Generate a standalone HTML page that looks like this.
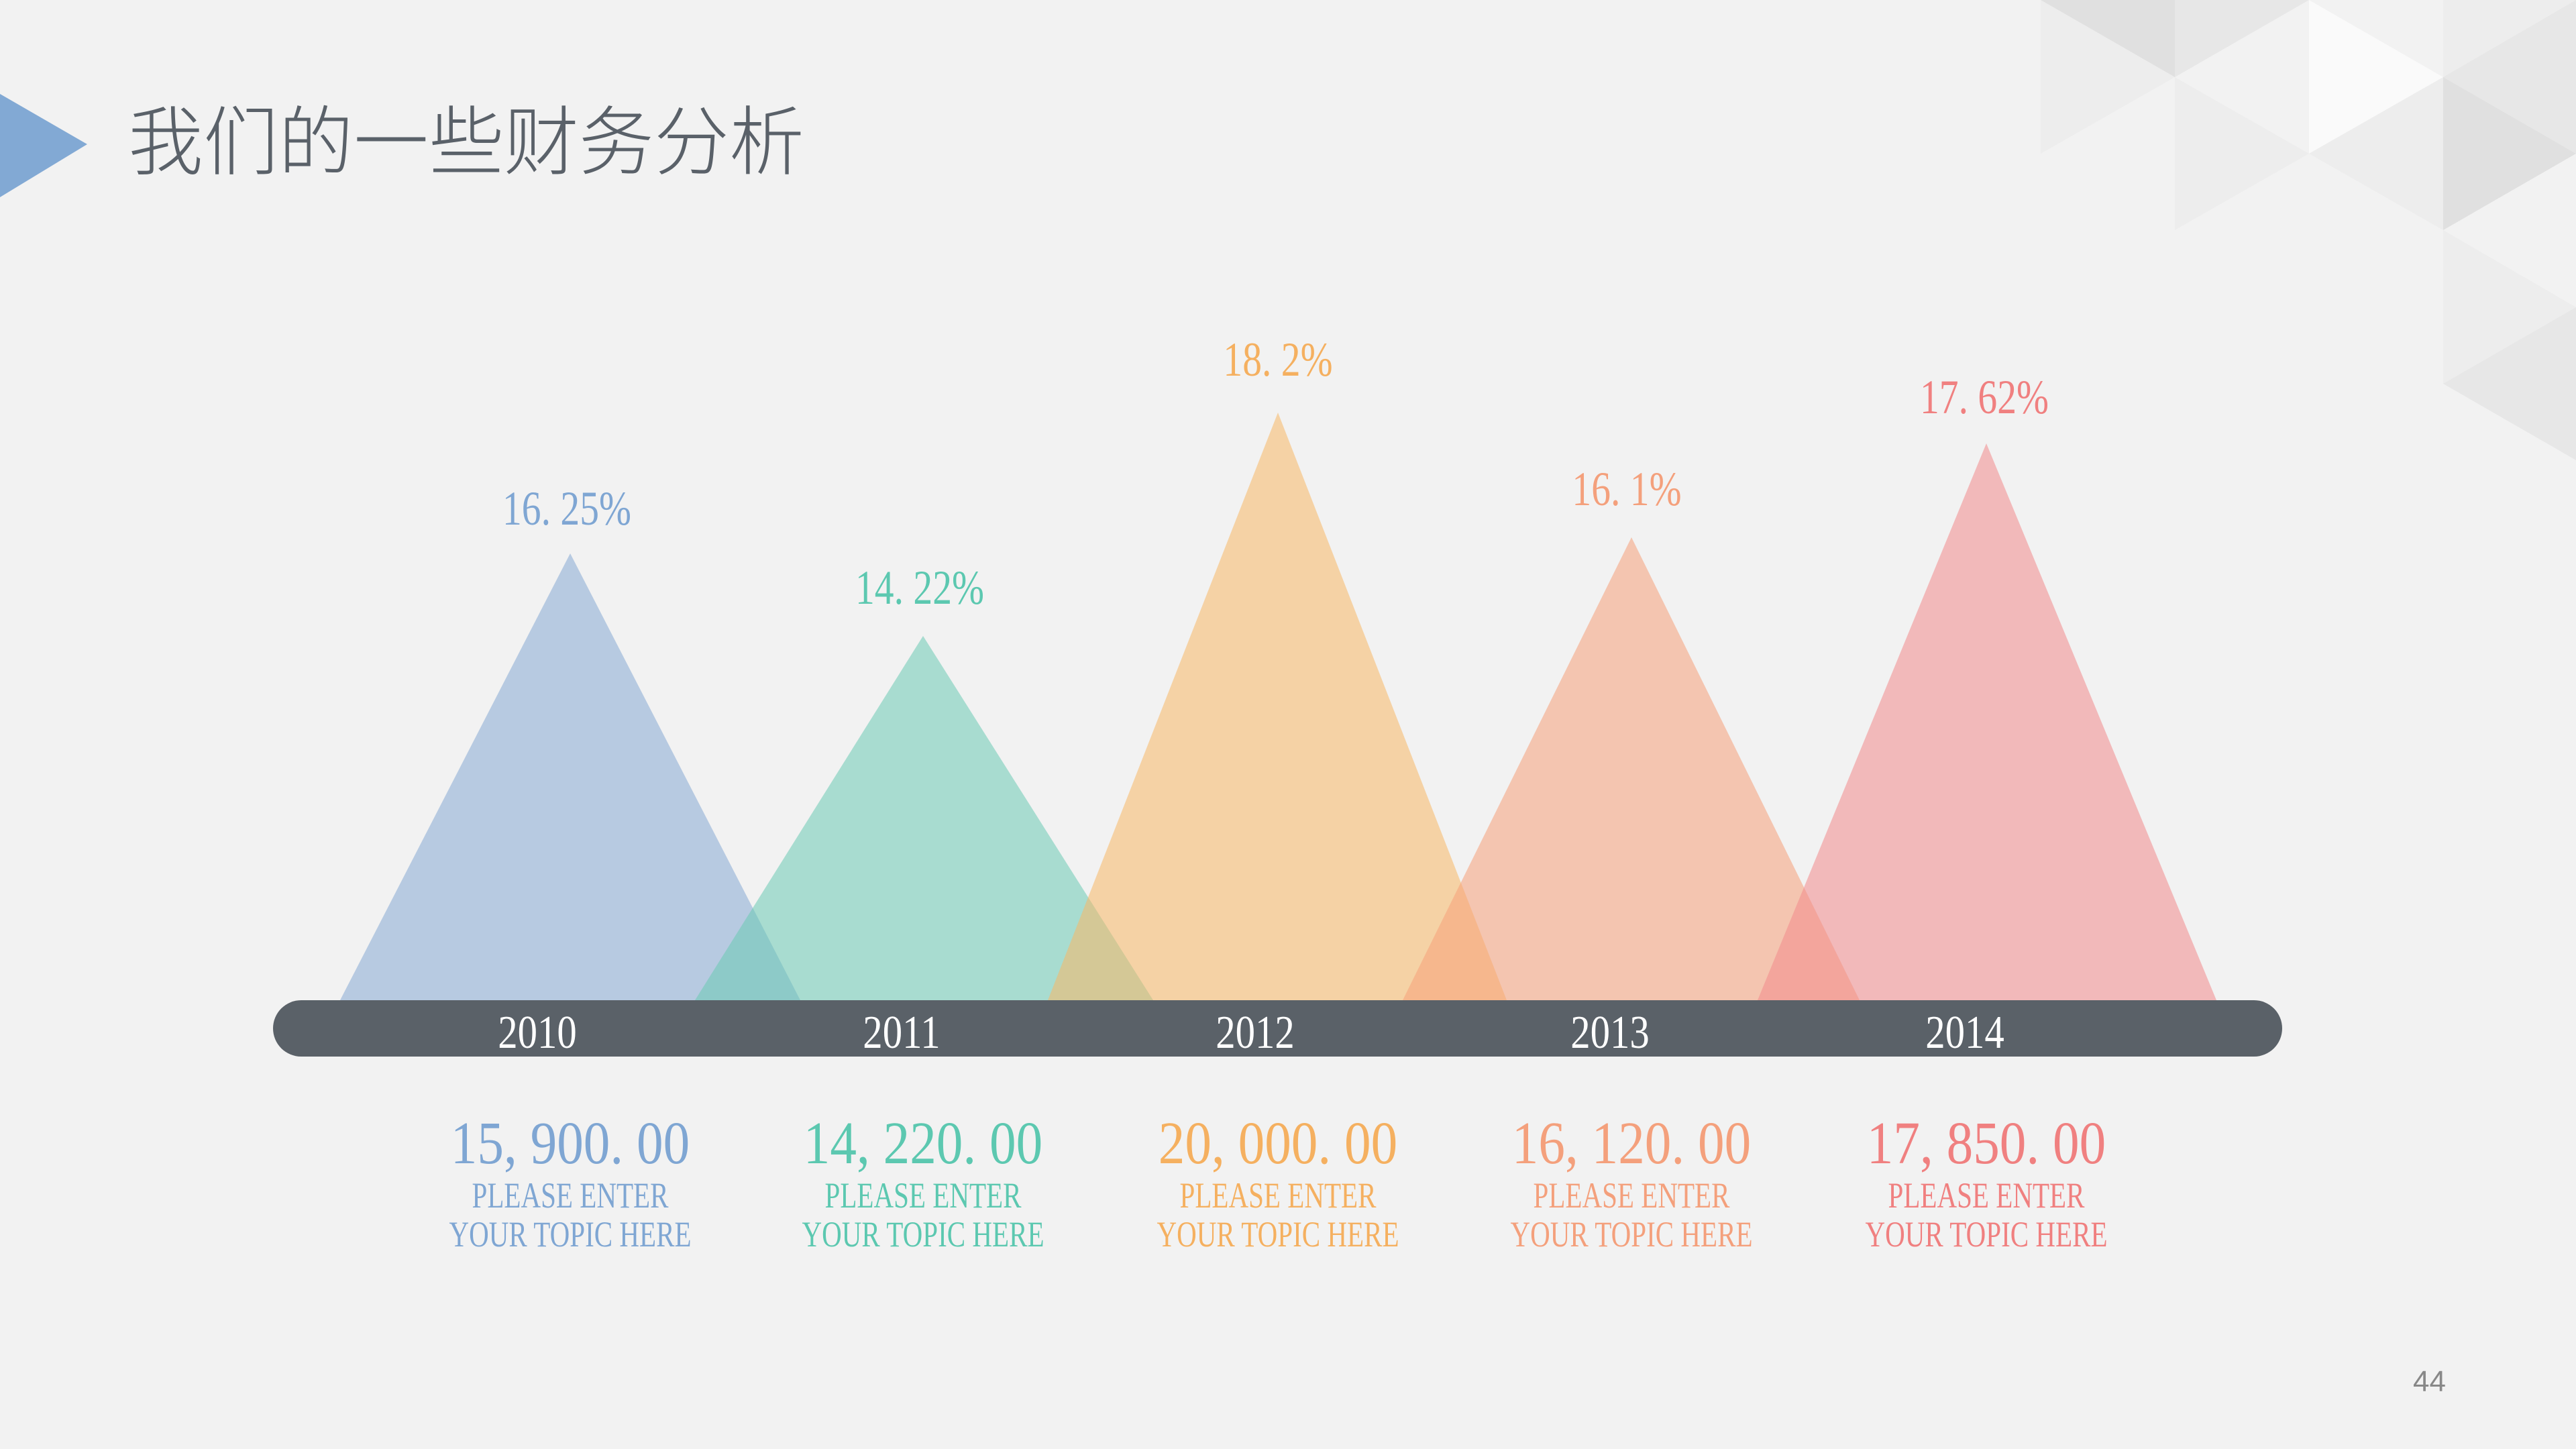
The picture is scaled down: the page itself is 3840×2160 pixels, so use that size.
<!DOCTYPE html>
<html><head><meta charset="utf-8"><style>
html,body{margin:0;padding:0;}
body{width:3840px;height:2160px;background:#f2f2f2;position:relative;overflow:hidden;font-family:"Liberation Serif","Noto Serif CJK SC",serif;}
.t{position:absolute;white-space:nowrap;line-height:1;transform-origin:center center;}
</style></head><body>
<svg width="3840" height="2160" style="position:absolute;left:0;top:0">
<g>
<polygon points="3042,0 3242,0 3242,115" fill="#e0e0e0"/>
<polygon points="3042,0 3242,115 3042,229" fill="#ededed"/>
<polygon points="3242,0 3442,0 3242,115" fill="#e7e7e7"/>
<polygon points="3242,115 3442,229 3242,343" fill="#ededed"/>
<polygon points="3442,0 3642,115 3442,229" fill="#fafafa"/>
<polygon points="3642,0 3840,0 3642,115" fill="#ededed"/>
<polygon points="3840,0 3642,115 3840,229" fill="#e7e7e7"/>
<polygon points="3642,115 3840,229 3642,343" fill="#e0e0e0"/>
<polygon points="3442,229 3642,115 3642,343" fill="#ededed"/>
<polygon points="3642,343 3840,458 3642,572" fill="#ededed"/>
<polygon points="3642,572 3840,458 3840,686" fill="#e7e7e7"/>
</g>
<polygon points="0,140 130,215 0,294" fill="#82a9d4"/>
<polygon points="507,1491 850,825 1193,1491" fill="#86aad3" opacity="0.55"/>
<polygon points="1036,1491 1376,948 1719,1491" fill="#6ccbb5" opacity="0.55"/>
<polygon points="1562,1491 1905,615 2246,1491" fill="#f7b866" opacity="0.55"/>
<polygon points="2091,1491 2432,801 2772,1491" fill="#f6a07a" opacity="0.55"/>
<polygon points="2620,1491 2961,661 3304,1491" fill="#f28b8c" opacity="0.55"/>
<rect x="407" y="1491" width="2995" height="84" rx="42" fill="#5a6168"/>
</svg>
<div class="t" style="left:191px;top:157px;font-size:112px;color:#5a6169;font-family:'Liberation Sans','Noto Sans CJK SC',sans-serif;font-weight:300;">我们的一些财务分析</div>

<div class="t" style="left:801px;top:1505px;font-size:70px;color:#fff;transform:translateX(-50%) scaleX(.84)">2010</div>
<div class="t" style="left:1344px;top:1505px;font-size:70px;color:#fff;transform:translateX(-50%) scaleX(.84)">2011</div>
<div class="t" style="left:1871px;top:1505px;font-size:70px;color:#fff;transform:translateX(-50%) scaleX(.84)">2012</div>
<div class="t" style="left:2400px;top:1505px;font-size:70px;color:#fff;transform:translateX(-50%) scaleX(.84)">2013</div>
<div class="t" style="left:2929px;top:1505px;font-size:70px;color:#fff;transform:translateX(-50%) scaleX(.84)">2014</div>

<div class="t" style="left:845px;top:722px;font-size:72px;color:#7fa6d3;transform:translateX(-50%) scaleX(.8)">16. 25%</div>
<div class="t" style="left:1371px;top:840px;font-size:72px;color:#5cc8b0;transform:translateX(-50%) scaleX(.8)">14. 22%</div>
<div class="t" style="left:1905px;top:500px;font-size:72px;color:#f5b060;transform:translateX(-50%) scaleX(.8)">18. 2%</div>
<div class="t" style="left:2425px;top:693px;font-size:72px;color:#f4a07c;transform:translateX(-50%) scaleX(.8)">16. 1%</div>
<div class="t" style="left:2958px;top:556px;font-size:72px;color:#f08080;transform:translateX(-50%) scaleX(.8)">17. 62%</div>

<div class="t" style="left:850px;top:1660px;font-size:90px;color:#7fa6d3;transform:translateX(-50%) scaleX(.88)">15, 900. 00</div>
<div class="t" style="left:1376px;top:1660px;font-size:90px;color:#5cc8b0;transform:translateX(-50%) scaleX(.88)">14, 220. 00</div>
<div class="t" style="left:1905px;top:1660px;font-size:90px;color:#f5b060;transform:translateX(-50%) scaleX(.88)">20, 000. 00</div>
<div class="t" style="left:2432px;top:1660px;font-size:90px;color:#f4a07c;transform:translateX(-50%) scaleX(.88)">16, 120. 00</div>
<div class="t" style="left:2961px;top:1660px;font-size:90px;color:#f08080;transform:translateX(-50%) scaleX(.88)">17, 850. 00</div>

<div class="t" style="left:850px;top:1753px;font-size:54px;color:#7fa6d3;transform:translateX(-50%) scaleX(.76);text-align:center;line-height:58px">PLEASE ENTER<br>YOUR TOPIC HERE</div>
<div class="t" style="left:1376px;top:1753px;font-size:54px;color:#5cc8b0;transform:translateX(-50%) scaleX(.76);text-align:center;line-height:58px">PLEASE ENTER<br>YOUR TOPIC HERE</div>
<div class="t" style="left:1905px;top:1753px;font-size:54px;color:#f5b060;transform:translateX(-50%) scaleX(.76);text-align:center;line-height:58px">PLEASE ENTER<br>YOUR TOPIC HERE</div>
<div class="t" style="left:2432px;top:1753px;font-size:54px;color:#f4a07c;transform:translateX(-50%) scaleX(.76);text-align:center;line-height:58px">PLEASE ENTER<br>YOUR TOPIC HERE</div>
<div class="t" style="left:2961px;top:1753px;font-size:54px;color:#f08080;transform:translateX(-50%) scaleX(.76);text-align:center;line-height:58px">PLEASE ENTER<br>YOUR TOPIC HERE</div>

<div class="t" style="left:3597px;top:2038px;font-size:44px;color:#888;font-family:'Liberation Sans',sans-serif;">44</div>
</body></html>
